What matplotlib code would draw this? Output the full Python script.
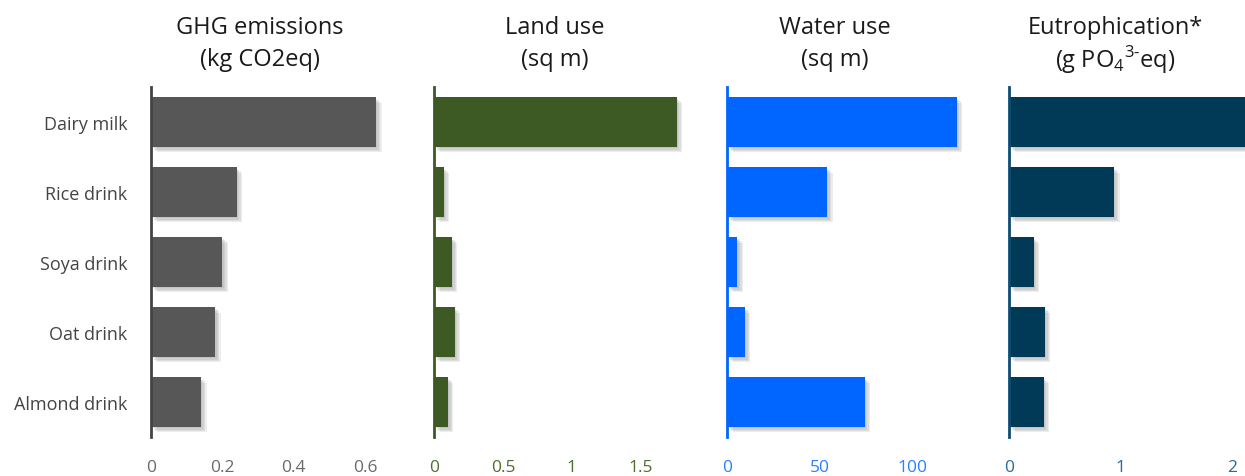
import numpy as np
import matplotlib.pyplot as plt
import matplotlib.patheffects as pe

plt.rcParams['font.family'] = ['Open Sans', 'DejaVu Sans']
plt.rcParams['mathtext.fontset'] = 'custom'
plt.rcParams['mathtext.rm'] = 'Open Sans'

# data (per glass)
drinks = ["Dairy milk", "Rice drink", "Soya drink", "Oat drink", "Almond drink"]
ghg = [0.63, 0.24, 0.20, 0.18, 0.14]
land = [1.76, 0.07, 0.13, 0.15, 0.10]
water = [124.0, 54.0, 5.6, 9.6, 74.3]
eutro = [2.13, 0.94, 0.22, 0.32, 0.31]

title_top = ["GHG emissions", "Land use", "Water use", "Eutrophication*"]
title_bot = ["(kg CO2eq)", "(sq m)", "(sq m)",
             r"(g PO$_\mathregular{4}$$^\mathregular{3\text{-}}$eq)"]
ticks = [[0, 0.2, 0.4, 0.6], [0, 0.5, 1, 1.5], [0, 50, 100], [0, 1, 2]]
ticklabels = [["0", "0.2", "0.4", "0.6"], ["0", "0.5", "1", "1.5"], ["0", "50", "100"], ["0", "1", "2"]]
xmax = [0.70, 1.85, 135, 2.12]
bar_cols = ["#575757", "#3d5a24", "#0066ff", "#003a57"]
spine_cols = ["#444444", "#3d5a24", "#0066ff", "#0d4d73"]
tick_cols = ["#6a6a6a", "#4e6e2e", "#2a80ff", "#2a6a94"]
lefts = [151, 434, 727, 1009]
widths = [250, 255, 250, 237]
title_x = [260, 555, 835, 1115]

W, H = 1245, 477
fig = plt.figure(figsize=(W / 100, H / 100), dpi=100)

# soft-ish shadow: a few stacked offsets
shadow = [pe.SimplePatchShadow(offset=(k, -k), shadow_rgbFace="#777777", alpha=0.13) for k in (1, 2, 3, 4)]

values = [ghg, land, water, eutro]
y = np.arange(len(drinks))
for i in range(4):
    ax = fig.add_axes([lefts[i] / W, 1 - 438 / H, widths[i] / W, 350 / H])
    bars = ax.barh(y, values[i], height=0.71, color=bar_cols[i], zorder=2)
    for b in bars:
        b.set_path_effects(shadow + [pe.Normal()])
    ax.set_ylim(4.5, -0.5)
    ax.set_xlim(0, xmax[i])
    ax.set_xticks(ticks[i])
    ax.set_xticklabels(ticklabels[i])
    ax.tick_params(axis='x', length=0, pad=16, labelsize=12.5, labelcolor=tick_cols[i])
    for s in ['top', 'right', 'bottom']:
        ax.spines[s].set_visible(False)
    ax.spines['left'].set_color(spine_cols[i])
    ax.spines['left'].set_linewidth(2)
    if i == 0:
        ax.set_yticks(y)
        ax.set_yticklabels(drinks)
        ax.tick_params(axis='y', length=0, pad=17, labelsize=13, labelcolor="#444444")
    else:
        ax.set_yticks([])
    fig.text(title_x[i] / W, 1 - 28 / H, title_top[i], ha='center', va='center',
             fontsize=17, color="#1a1a1a")
    fig.text(title_x[i] / W, 1 - 60 / H, title_bot[i], ha='center', va='center',
             fontsize=17, color="#1a1a1a")

fig.savefig("out.png", dpi=100)
